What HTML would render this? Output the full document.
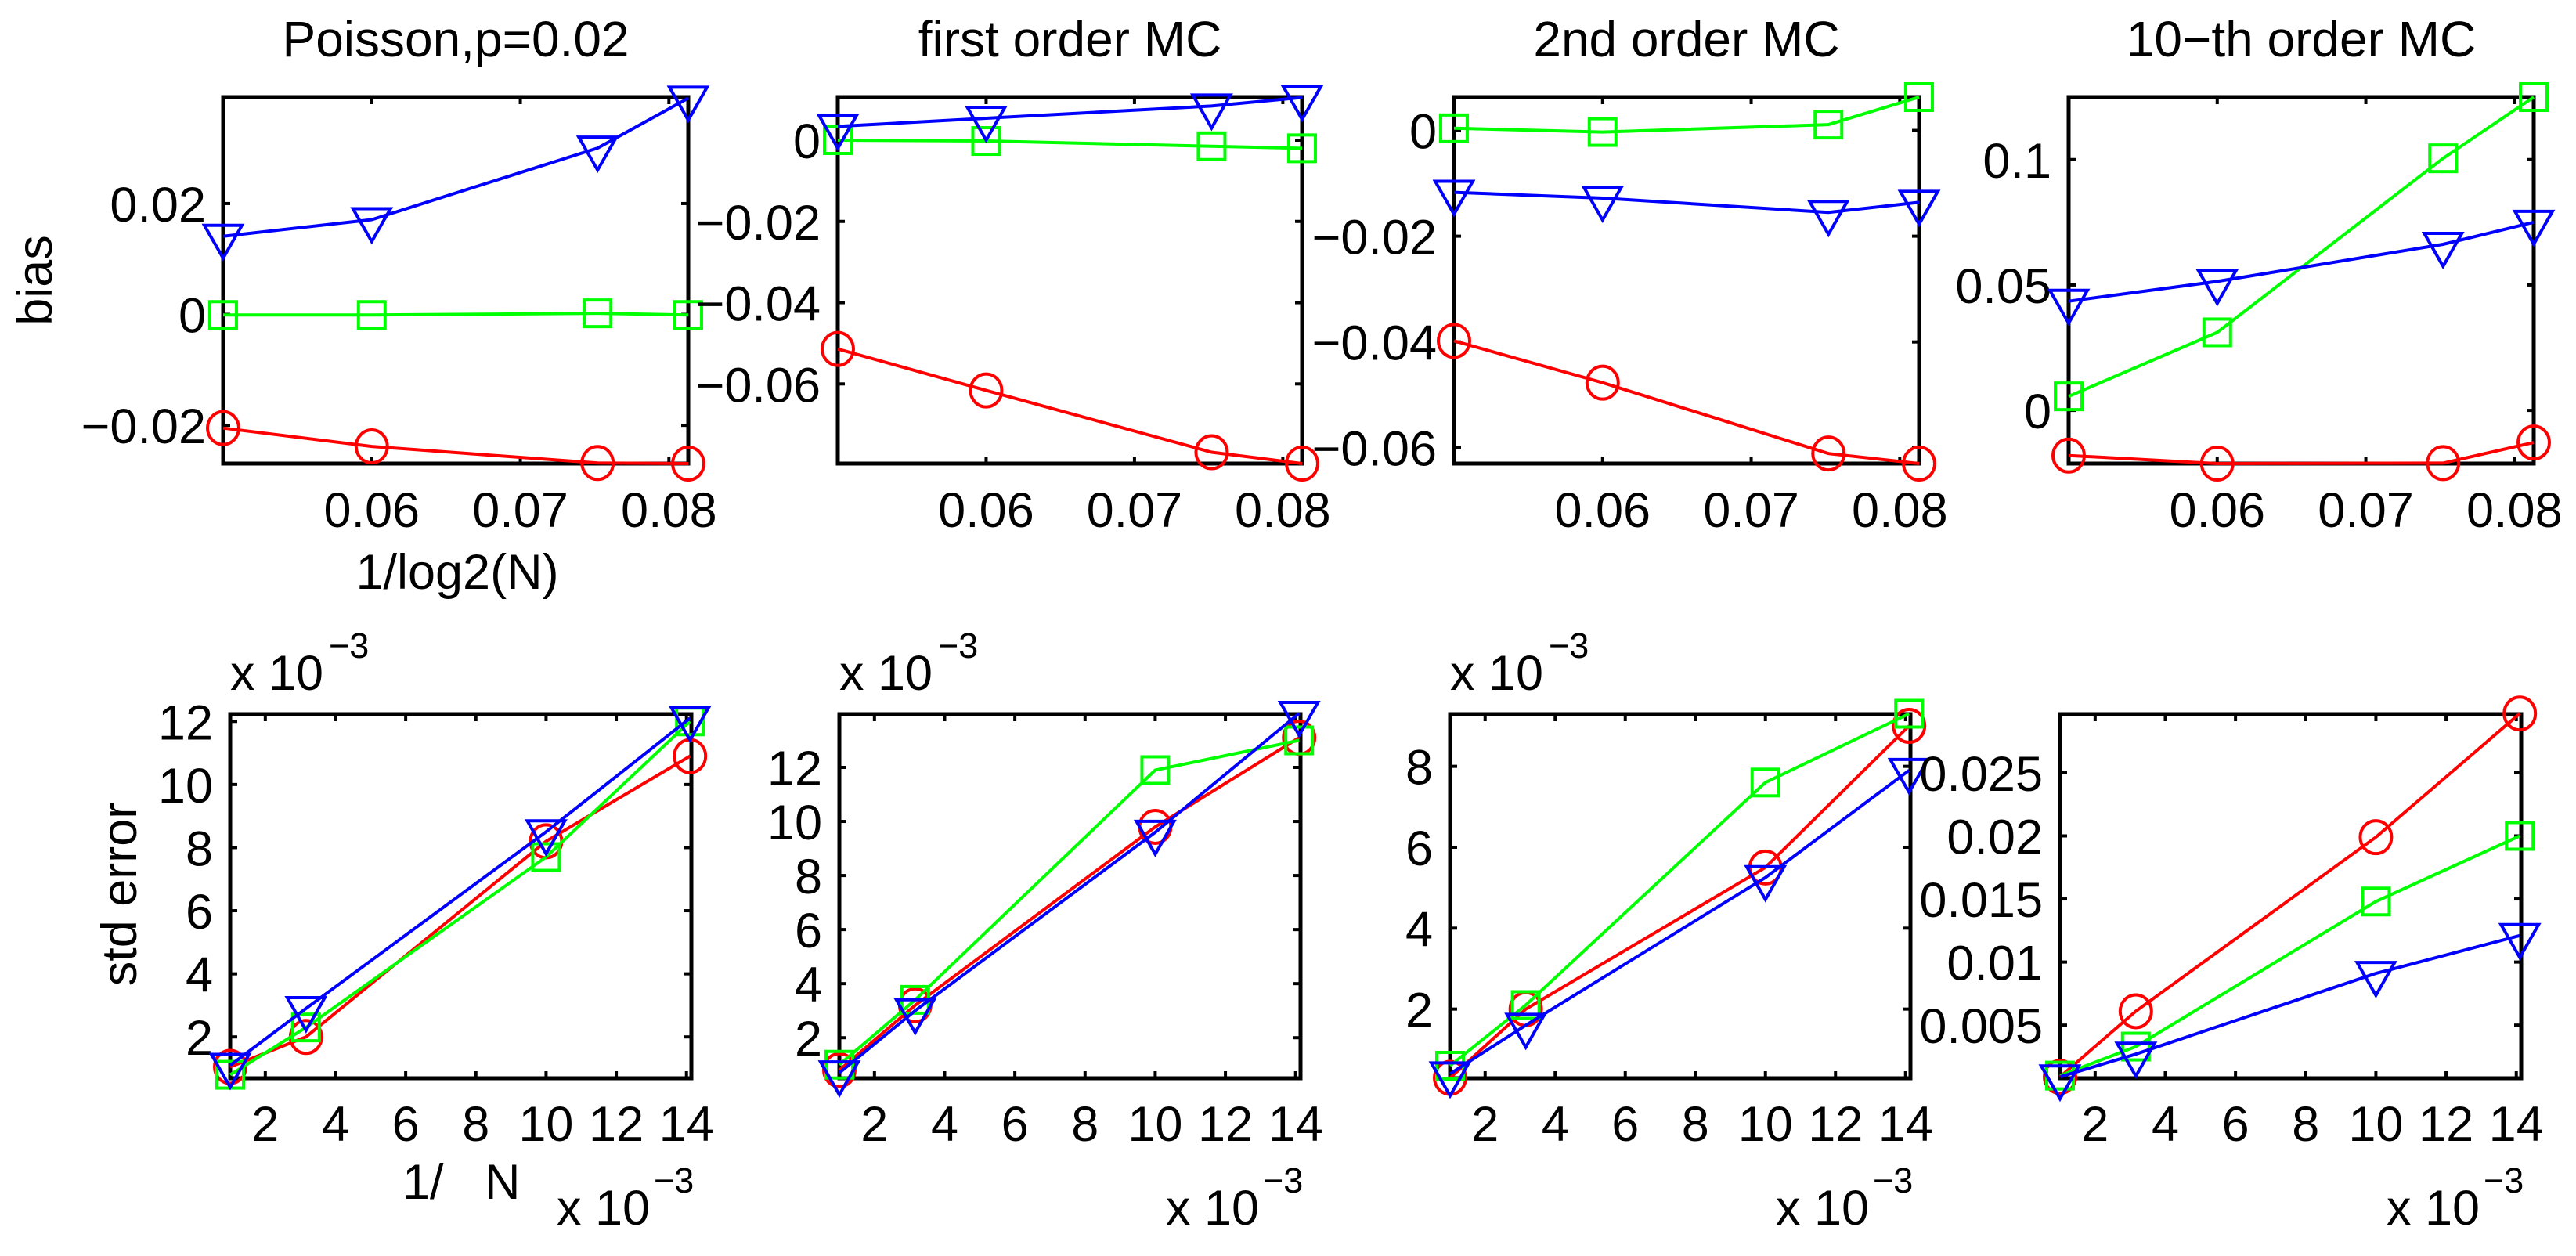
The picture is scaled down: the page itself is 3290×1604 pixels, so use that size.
<!DOCTYPE html>
<html><head><meta charset="utf-8"><title>bias and std error</title>
<style>
html,body{margin:0;padding:0;background:#fff;}
svg{display:block;font-family:"Liberation Sans",Arial,sans-serif;}
</style></head>
<body>
<svg id="fig" width="3290" height="1604" viewBox="0 0 3290 1604" xmlns="http://www.w3.org/2000/svg">
<rect x="0" y="0" width="3290" height="1604" fill="#fff"/>
</svg>
<script>
// ---- data ----
const xBias = [0.05, 0.06, 0.0752, 0.0813];
const xStd = [1.0, 3.16, 10.0, 14.1];
const xBiasTicks = [0.06, 0.07, 0.08];
const xBiasTickLabels = ["0.06", "0.07", "0.08"];
const xStdTicks = [2, 4, 6, 8, 10, 12, 14];
const xStdTickLabels = ["2", "4", "6", "8", "10", "12", "14"];

const poissonBiasRed = [-0.0205, -0.0238, -0.0268, -0.0269];
const poissonBiasGreen = [-0.0001, -0.0001, 0.0002, -0.0001];
const poissonBiasBlue = [0.0141, 0.0171, 0.0300, 0.0390];
const mc1BiasRed = [-0.0514, -0.0616, -0.0768, -0.0796];
const mc1BiasGreen = [0.0, -0.0002, -0.0015, -0.002];
const mc1BiasBlue = [0.0034, 0.0054, 0.0084, 0.0105];
const mc2BiasRed = [-0.0398, -0.0477, -0.0611, -0.063];
const mc2BiasGreen = [0.0004, -0.0003, 0.0011, 0.0063];
const mc2BiasBlue = [-0.0117, -0.0128, -0.0155, -0.0136];
const mc10BiasRed = [-0.018, -0.0212, -0.021, -0.0128];
const mc10BiasGreen = [0.0056, 0.0311, 0.1005, 0.1249];
const mc10BiasBlue = [0.0435, 0.0514, 0.0662, 0.075];

const poissonStdRed = [1.05, 2.0, 8.2, 10.9];
const poissonStdGreen = [0.8, 2.3, 7.7, 12.0];
const poissonStdBlue = [1.1, 2.9, 8.5, 12.1];
const mc1StdRed = [0.8, 3.2, 9.8, 13.1];
const mc1StdGreen = [1.0, 3.4, 11.9, 13.0];
const mc1StdBlue = [0.7, 3.0, 9.6, 14.0];
const mc2StdRed = [0.3, 2.0, 5.5, 9.0];
const mc2StdGreen = [0.6, 2.1, 7.6, 9.3];
const mc2StdBlue = [0.4, 1.6, 5.25, 7.9];
const mc10StdRed = [0.0009, 0.0061, 0.0199, 0.0297];
const mc10StdGreen = [0.001, 0.0033, 0.0148, 0.020];
const mc10StdBlue = [0.0009, 0.0027, 0.0091, 0.0121];

const yTicksP1 = [-0.02, 0, 0.02];
const yLabelsP1 = ["\u22120.02", "0", "0.02"];
const yTicksP2 = [-0.06, -0.04, -0.02, 0];
const yLabelsP2 = ["\u22120.06", "\u22120.04", "\u22120.02", "0"];
const yTicksP3 = [-0.06, -0.04, -0.02, 0];
const yLabelsP3 = ["\u22120.06", "\u22120.04", "\u22120.02", "0"];
const yTicksP4 = [0, 0.05, 0.1];
const yLabelsP4 = ["0", "0.05", "0.1"];
const yTicksS1 = [2, 4, 6, 8, 10, 12];
const yLabelsS1 = ["2", "4", "6", "8", "10", "12"];
const yTicksS2 = [2, 4, 6, 8, 10, 12];
const yLabelsS2 = ["2", "4", "6", "8", "10", "12"];
const yTicksS3 = [2, 4, 6, 8];
const yLabelsS3 = ["2", "4", "6", "8"];
const yTicksS4 = [0.005, 0.01, 0.015, 0.02, 0.025];
const yLabelsS4 = ["0.005", "0.01", "0.015", "0.02", "0.025"];

// ---- drawing ----
const NS = "http://www.w3.org/2000/svg";
const svg = document.getElementById("fig");
function mk(tag, attrs, parent) {
  const e = document.createElementNS(NS, tag);
  for (const k in attrs) e.setAttribute(k, attrs[k]);
  (parent || svg).appendChild(e);
  return e;
}
function txt(s, x, y, size, anchor, parent, name) {
  const t = mk("text", {x: x, y: y, "font-size": size, "text-anchor": anchor || "middle", fill: "#000"}, parent);
  t.textContent = s;
  
  
  return t;
}
const FS = 63;

function panel(cfg) {
  const g = mk("g", {});
  
  
  const L = cfg.box[0], T = cfg.box[1], R = cfg.box[2], B = cfg.box[3];
  const sx = v => L + (v - cfg.xlim[0]) / (cfg.xlim[1] - cfg.xlim[0]) * (R - L);
  const sy = v => B - (v - cfg.ylim[0]) / (cfg.ylim[1] - cfg.ylim[0]) * (B - T);
  // ticks
  const tk = mk("g", {stroke: "#000", "stroke-width": 4}, g);
  
  
  cfg.xticks.forEach((v, i) => {
    const x = sx(v);
    mk("line", {x1: x, y1: B, x2: x, y2: B - 9}, tk);
    mk("line", {x1: x, y1: T, x2: x, y2: T + 9}, tk);
    txt(cfg.xlabels[i], x, cfg.xlabY, FS, "middle", g, 'x-tick-label');
  });
  cfg.yticks.forEach((v, i) => {
    const y = sy(v);
    mk("line", {x1: L, y1: y, x2: L + 9, y2: y}, tk);
    mk("line", {x1: R, y1: y, x2: R - 9, y2: y}, tk);
    txt(cfg.ylabels[i], L - 22, y + 23, FS, "end", g, 'y-tick-label');
  });
  // box
  const bx = mk("rect", {x: L, y: T, width: R - L, height: B - T, fill: "none", stroke: "#000", "stroke-width": 5}, g);
  
  
  // series
  const series = [
    {vals: cfg.red, color: "#ff0000", m: "circle", n: "red-circle-series"},
    {vals: cfg.green, color: "#00ff00", m: "square", n: "green-square-series"},
    {vals: cfg.blue, color: "#0000ff", m: "triangle", n: "blue-triangle-series"}
  ];
  series.forEach(s => {
    const sg = mk("g", {stroke: s.color, fill: "none", "stroke-width": 4}, g);
    
    
    const pts = s.vals.map((v, i) => sx(cfg.xs[i]).toFixed(1) + "," + sy(v).toFixed(1)).join(" ");
    const pl = mk("polyline", {points: pts}, sg);
    
    
    s.vals.forEach((v, i) => {
      const cx = sx(cfg.xs[i]), cy = sy(v);
      let e;
      if (s.m === "circle") e = mk("ellipse", {cx: cx, cy: cy, rx: 20, ry: 21}, sg);
      else if (s.m === "square") e = mk("rect", {x: cx - 17, y: cy - 17, width: 34, height: 34}, sg);
      else e = mk("polygon", {points: (cx - 24) + "," + (cy - 14) + " " + (cx + 24) + "," + (cy - 14) + " " + cx + "," + (cy + 28)}, sg);
      
      
    });
  });
  if (cfg.title) txt(cfg.title, (L + R) / 2, 72, 64, "middle", g, 'panel-title');
  if (cfg.exp) {
    // upper "x 10^-3"
    if (cfg.upperExp) {
      const t = txt("x 10", L, 881, 63, "start", g, 'y-exponent-label');
      txt("\u22123", L + 126, 840, 45, "start", g, 'y-exponent-power');
    }
    txt("x 10", R - 172, 1564, 63, "start", g, 'x-exponent-label');
    txt("\u22123", R - 48, 1523, 45, "start", g, 'x-exponent-power');
  }
}

const TOPT = 124, TOPB = 592, BOT_T = 912, BOT_B = 1377;
const xlB = [0.05, 0.0813], xlS = [1.0, 14.14];
panel({name: "poisson-bias-panel", title: "Poisson,p=0.02", box: [285, TOPT, 879, TOPB], xlim: xlB, ylim: [-0.0269, 0.0392],
  xs: xBias, xticks: xBiasTicks, xlabels: xBiasTickLabels, xlabY: 673, yticks: yTicksP1, ylabels: yLabelsP1,
  red: poissonBiasRed, green: poissonBiasGreen, blue: poissonBiasBlue});
panel({name: "first-order-mc-bias-panel", title: "first order MC", box: [1070, TOPT, 1663, TOPB], xlim: xlB, ylim: [-0.0796, 0.0106],
  xs: xBias, xticks: xBiasTicks, xlabels: xBiasTickLabels, xlabY: 673, yticks: yTicksP2, ylabels: yLabelsP2,
  red: mc1BiasRed, green: mc1BiasGreen, blue: mc1BiasBlue});
panel({name: "second-order-mc-bias-panel", title: "2nd order MC", box: [1857, TOPT, 2451, TOPB], xlim: xlB, ylim: [-0.063, 0.0063],
  xs: xBias, xticks: xBiasTicks, xlabels: xBiasTickLabels, xlabY: 673, yticks: yTicksP3, ylabels: yLabelsP3,
  red: mc2BiasRed, green: mc2BiasGreen, blue: mc2BiasBlue});
panel({name: "tenth-order-mc-bias-panel", title: "10\u2212th order MC", box: [2642, TOPT, 3236, TOPB], xlim: xlB, ylim: [-0.0212, 0.1249],
  xs: xBias, xticks: xBiasTicks, xlabels: xBiasTickLabels, xlabY: 673, yticks: yTicksP4, ylabels: yLabelsP4,
  red: mc10BiasRed, green: mc10BiasGreen, blue: mc10BiasBlue});

panel({name: "poisson-std-panel", box: [294, BOT_T, 883, BOT_B], xlim: xlS, ylim: [0.69, 12.23],
  xs: xStd, xticks: xStdTicks, xlabels: xStdTickLabels, xlabY: 1457, yticks: yTicksS1, ylabels: yLabelsS1,
  red: poissonStdRed, green: poissonStdGreen, blue: poissonStdBlue, exp: true, upperExp: true});
panel({name: "first-order-mc-std-panel", box: [1072, BOT_T, 1661, BOT_B], xlim: xlS, ylim: [0.5, 13.97],
  xs: xStd, xticks: xStdTicks, xlabels: xStdTickLabels, xlabY: 1457, yticks: yTicksS2, ylabels: yLabelsS2,
  red: mc1StdRed, green: mc1StdGreen, blue: mc1StdBlue, exp: true, upperExp: true});
panel({name: "second-order-mc-std-panel", box: [1852, BOT_T, 2440, BOT_B], xlim: xlS, ylim: [0.29, 9.29],
  xs: xStd, xticks: xStdTicks, xlabels: xStdTickLabels, xlabY: 1457, yticks: yTicksS3, ylabels: yLabelsS3,
  red: mc2StdRed, green: mc2StdGreen, blue: mc2StdBlue, exp: true, upperExp: true});
panel({name: "tenth-order-mc-std-panel", box: [2631, BOT_T, 3220, BOT_B], xlim: xlS, ylim: [0.00079, 0.02965],
  xs: xStd, xticks: xStdTicks, xlabels: xStdTickLabels, xlabY: 1457, yticks: yTicksS4, ylabels: yLabelsS4,
  red: mc10StdRed, green: mc10StdGreen, blue: mc10StdBlue, exp: true, upperExp: false});

// axis labels
const b = txt("bias", 0, 0, 63, "middle", svg, 'y-axis-title-bias');
b.setAttribute("transform", "translate(66,358) rotate(-90)");
const se = txt("std error", 0, 0, 63, "middle", svg, 'y-axis-title-std-error');
se.setAttribute("transform", "translate(174,1142) rotate(-90)");
txt("1/log2(N)", 584, 752, 63, "middle", svg, 'x-axis-title-bias');
const xn = txt("1/\u00a0\u00a0\u00a0N", 514, 1531, 63, "start", svg, 'x-axis-title-std-error');
</script>
</body></html>
